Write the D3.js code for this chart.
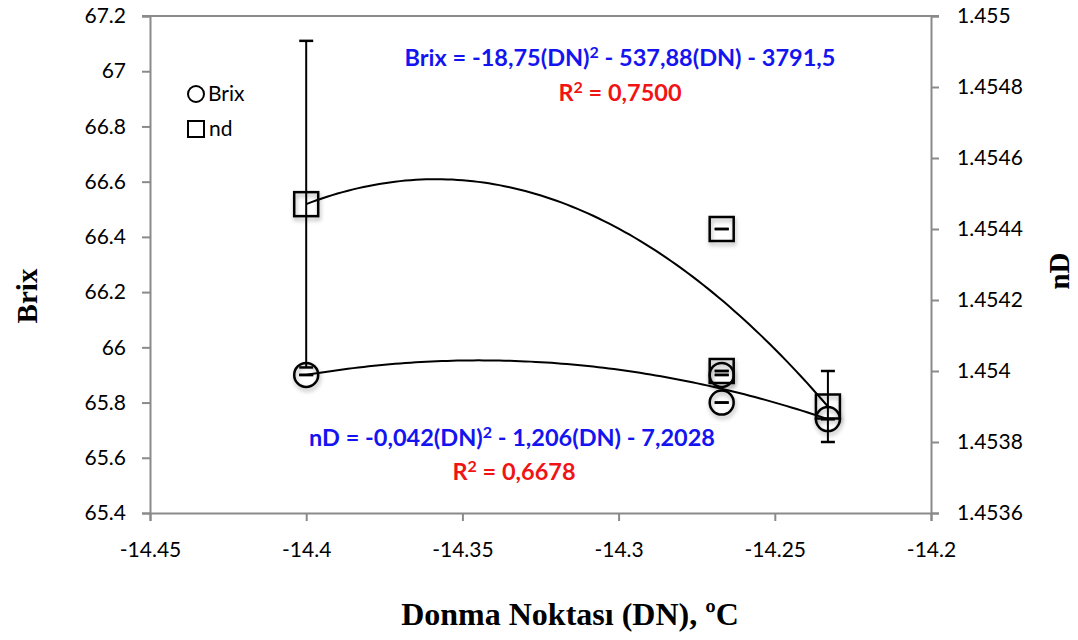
<!DOCTYPE html>
<html>
<head>
<meta charset="utf-8">
<script src="https://cdn.jsdelivr.net/npm/d3@7"></script>
<style>
  html, body { margin: 0; padding: 0; background: #fff; }
  svg { display: block; }
  .tick text { font-family: Lato, "Open Sans", sans-serif; font-size: 21px; fill: #000; }
</style>
</head>
<body>
<svg id="chart" width="1078" height="640"></svg>
<script>
// Freezing point (DN, °C) of each sample
const dn = [-14.4, -14.267, -14.267, -14.233];
// Brix readings and their error half-widths
const brix = [65.9, 65.9, 65.8, 65.74];
const brixErr = [0, 0, 0, 0];
// Refractive index (nD) readings and their error half-widths
const nd = [1.45447, 1.4544, 1.4540, 1.4539];
const ndErr = [0.00046, 0, 0, 0.0001];

// Axis ticks
const xTicks = [-14.45, -14.4, -14.35, -14.3, -14.25, -14.2];
const brixTicks = [65.4, 65.6, 65.8, 66, 66.2, 66.4, 66.6, 66.8, 67, 67.2];
const ndTicks = [1.4536, 1.4538, 1.454, 1.4542, 1.4544, 1.4546, 1.4548, 1.455];

// Fit labels (the "²" is drawn as a raised tspan)
const brixEq = ["Brix = -18,75(DN)", " - 537,88(DN) - 3791,5"];
const brixR2 = ["R", " = 0,7500"];
const ndEq = ["nD = -0,042(DN)", " - 1,206(DN) - 7,2028"];
const ndR2 = ["R", " = 0,6678"];

const svg = d3.select("#chart");
const plotL = 150, plotR = 931, plotT = 16, plotB = 513;

const x = d3.scaleLinear().domain([-14.45, -14.2]).range([plotL, plotR]);
const yB = d3.scaleLinear().domain([65.4, 67.2]).range([plotB, plotT]);
const yN = d3.scaleLinear().domain([1.4536, 1.455]).range([plotB, plotT]);

// Soft shadow under the markers
const defs = svg.append("defs");
const f = defs.append("filter").attr("id", "shadow")
  .attr("x", "-50%").attr("y", "-50%").attr("width", "200%").attr("height", "200%");
f.append("feDropShadow").attr("dx", 1).attr("dy", 3).attr("stdDeviation", 2)
  .attr("flood-color", "#000").attr("flood-opacity", 0.3);

const axisColor = "#8a8a8a";
// Plain hyphen-minus for negative tick labels
const fmt = digits => d => String(+d.toFixed(digits));

// Axes
const gx = svg.append("g").attr("transform", `translate(0,${plotB})`)
  .call(d3.axisBottom(x).tickValues(xTicks).tickFormat(fmt(2)).tickSize(8).tickPadding(21));
const gl = svg.append("g").attr("transform", `translate(${plotL},0)`)
  .call(d3.axisLeft(yB).tickValues(brixTicks).tickFormat(fmt(1)).tickSize(8).tickPadding(16));
const gr = svg.append("g").attr("transform", `translate(${plotR},0)`)
  .call(d3.axisRight(yN).tickValues(ndTicks).tickFormat(fmt(4)).tickSize(8).tickPadding(18));
[gx, gl, gr].forEach(g => {
  g.selectAll("path.domain").attr("stroke", axisColor).attr("stroke-width", 2);
  g.selectAll(".tick line").attr("stroke", axisColor).attr("stroke-width", 2);
});
// Top edge of the plot area
svg.append("line").attr("x1", plotL - 8).attr("x2", plotR + 8).attr("y1", plotT).attr("y2", plotT)
  .attr("stroke", axisColor).attr("stroke-width", 2);
gx.selectAll(".tick text").attr("dy", "0.71em");

// Least-squares quadratic fit
function quadFit(xs, ys) {
  const x0 = d3.mean(xs);
  const S = [0, 0, 0, 0, 0], T = [0, 0, 0];
  xs.forEach((xv, i) => {
    const u = xv - x0;
    for (let k = 0; k < 5; k++) S[k] += Math.pow(u, k);
    for (let k = 0; k < 3; k++) T[k] += ys[i] * Math.pow(u, k);
  });
  const M = [[S[0], S[1], S[2]], [S[1], S[2], S[3]], [S[2], S[3], S[4]]];
  const det = m => m[0][0]*(m[1][1]*m[2][2]-m[1][2]*m[2][1]) - m[0][1]*(m[1][0]*m[2][2]-m[1][2]*m[2][0]) + m[0][2]*(m[1][0]*m[2][1]-m[1][1]*m[2][0]);
  const D = det(M);
  const c = [0, 1, 2].map(j => det(M.map((row, r) => row.map((v, col) => col === j ? T[r] : v))) / D);
  return xv => { const u = xv - x0; return c[0] + c[1]*u + c[2]*u*u; };
}

const xs = d3.range(0, 101).map(i => d3.min(dn) + (d3.max(dn) - d3.min(dn)) * i / 100);
const fitB = quadFit(dn, brix);
const fitN = quadFit(dn, nd);

const lineB = d3.line().x(d => x(d)).y(d => yB(fitB(d)));
const lineN = d3.line().x(d => x(d)).y(d => yN(fitN(d)));
svg.append("path").attr("d", lineB(xs)).attr("fill", "none").attr("stroke", "#000").attr("stroke-width", 2);
svg.append("path").attr("d", lineN(xs)).attr("fill", "none").attr("stroke", "#000").attr("stroke-width", 2);

// Error bars
function errorBars(vals, errs, y) {
  const g = svg.append("g").attr("stroke", "#000");
  dn.forEach((d, i) => {
    const cx = x(d), y1 = y(vals[i] + errs[i]), y2 = y(vals[i] - errs[i]);
    g.append("line").attr("x1", cx).attr("x2", cx).attr("y1", y1).attr("y2", y2).attr("stroke-width", 2);
    [y1, y2].forEach(yy => g.append("line").attr("x1", cx - 7).attr("x2", cx + 7)
      .attr("y1", yy).attr("y2", yy).attr("stroke-width", 2.5));
  });
}
errorBars(nd, ndErr, yN);
errorBars(brix, brixErr, yB);

// nD markers (squares)
svg.append("g").selectAll("rect").data(dn).join("rect")
  .attr("x", d => x(d) - 12).attr("y", (d, i) => yN(nd[i]) - 12)
  .attr("width", 24).attr("height", 24)
  .attr("fill", "none").attr("stroke", "#000").attr("stroke-width", 2.5)
  .attr("filter", "url(#shadow)");

// Brix markers (circles)
svg.append("g").selectAll("circle").data(dn).join("circle")
  .attr("cx", d => x(d)).attr("cy", (d, i) => yB(brix[i])).attr("r", 12)
  .attr("fill", "none").attr("stroke", "#000").attr("stroke-width", 2.5)
  .attr("filter", "url(#shadow)");

// Legend
const lg = svg.append("g").attr("font-family", "Lato, 'Open Sans', sans-serif").attr("font-size", 21);
lg.append("circle").attr("cx", 196).attr("cy", 94).attr("r", 8)
  .attr("fill", "none").attr("stroke", "#000").attr("stroke-width", 2);
lg.append("text").attr("x", 208).attr("y", 101).text("Brix");
lg.append("rect").attr("x", 188).attr("y", 121).attr("width", 16).attr("height", 16)
  .attr("fill", "none").attr("stroke", "#000").attr("stroke-width", 2);
lg.append("text").attr("x", 209).attr("y", 136).text("nd");

// Fit equations
const eq = svg.append("g").attr("font-family", "Lato, 'Open Sans', sans-serif")
  .attr("font-weight", "bold").attr("font-size", 23.5).attr("text-anchor", "middle");
function eqText(parts, cx, cy, color) {
  const t = eq.append("text").attr("x", cx).attr("y", cy).attr("fill", color);
  t.append("tspan").text(parts[0]);
  t.append("tspan").attr("dy", -8).attr("font-size", 16).text("2");
  t.append("tspan").attr("dy", 8).text(parts[1]);
}
eqText(brixEq, 620, 66, "#1414f0");
eqText(brixR2, 620, 101, "#f01414");
eqText(ndEq, 512, 446, "#1414f0");
eqText(ndR2, 514, 480, "#f01414");

// Axis titles
const tt = svg.append("g").attr("font-family", "'Liberation Serif', 'Times New Roman', serif")
  .attr("font-weight", "bold").attr("text-anchor", "middle").attr("fill", "#000");
tt.append("text").attr("transform", "translate(37,296) rotate(-90)").attr("font-size", 29).text("Brix");
tt.append("text").attr("transform", "translate(1069,271) rotate(-90)").attr("font-size", 29).text("nD");
tt.append("text").attr("x", 570).attr("y", 625).attr("font-size", 32).text("Donma Noktası (DN), ºC");
</script>
</body>
</html>
